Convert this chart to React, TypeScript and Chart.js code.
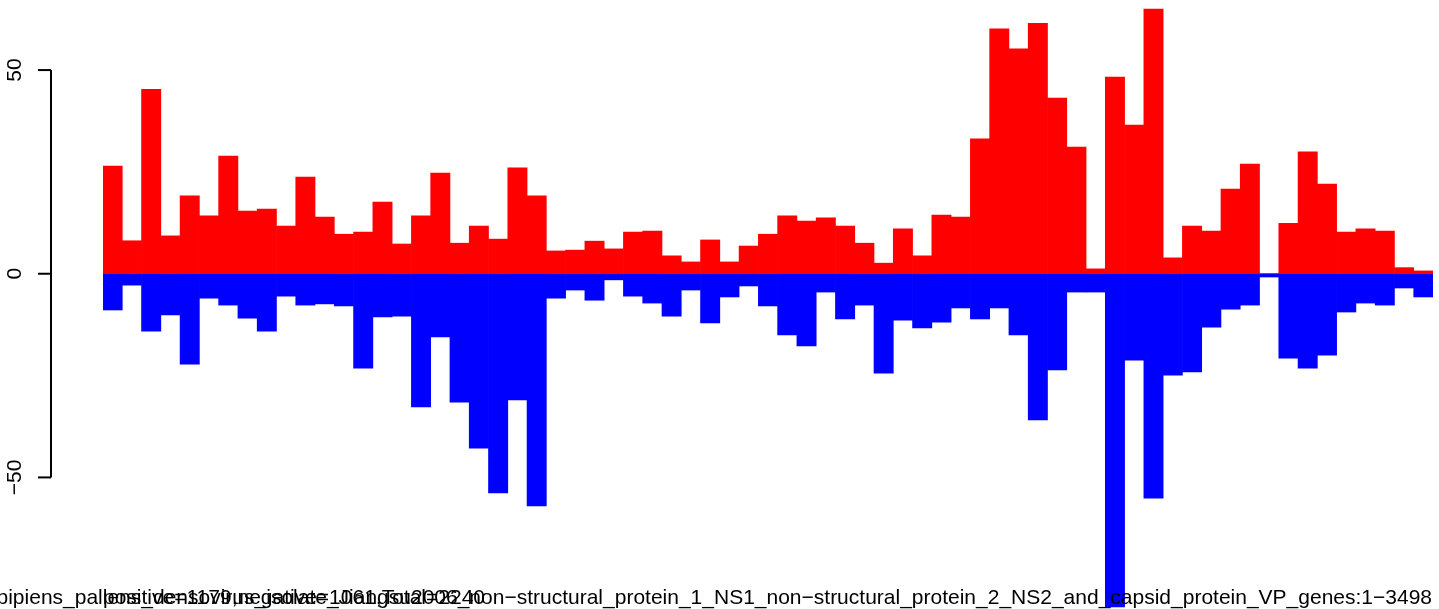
import React, { useEffect, useRef } from "react";
import { Chart, registerables } from "chart.js";

Chart.register(...registerables);

// Counts per bin along the genome (positive strand above, negative strand below)
const positive = [
  26.4, 8.1, 45.3, 9.3, 19.1, 14.2, 28.9, 15.4, 15.9, 11.7,
  23.7, 13.9, 9.7, 10.2, 17.6, 7.3, 14.2, 24.7, 7.5, 11.7,
  8.5, 26.0, 19.1, 5.6, 5.8, 8.0, 6.1, 10.2, 10.5, 4.4,
  2.9, 8.3, 2.9, 6.8, 9.7, 14.2, 12.9, 13.7, 11.7, 7.5,
  2.6, 11.0, 4.4, 14.4, 13.9, 33.1, 60.1, 55.2, 61.5, 43.1,
  31.1, 1.2, 48.3, 36.5, 65.0, 3.9, 11.7, 10.5, 20.8, 26.9,
  0, 12.4, 29.9, 22.0, 10.2, 11.0, 10.5, 1.5, 0.7,
];

const negative = [
  -8.9, -2.8, -14.1, -10.1, -22.2, -6.0, -7.7, -10.9, -14.1, -5.5,
  -7.7, -7.4, -7.9, -23.2, -10.6, -10.4, -32.7, -15.5, -31.5, -42.8,
  -53.8, -31.0, -57.0, -6.0, -4.0, -6.5, -1.5, -5.5, -7.2, -10.4,
  -4.0, -12.1, -5.7, -3.0, -7.9, -15.0, -17.7, -4.5, -11.1, -7.7,
  -24.4, -11.4, -13.3, -11.9, -8.4, -11.1, -8.4, -15.0, -35.9, -23.6,
  -4.5, -4.5, -81.8, -21.2, -55.1, -24.9, -24.1, -13.1, -8.7, -7.7,
  -0.8, -20.7, -23.2, -20.0, -9.4, -7.2, -7.7, -3.5, -5.7,
];

const bins = positive.map((_, i) => String(i + 1));

const yTicks = [-50, 0, 50];
const yTickLabels = ["\u221250", "0", "50"];

const titleText =
  "Culex_pipiens_pallens_densovirus_isolate_Jiangsu2006_non\u2212structural_protein_1_NS1_non\u2212structural_protein_2_NS2_and_capsid_protein_VP_genes:1\u22123498";
const countsText = "positive=1179,negative=1061,Total=2240";

const FONT = '21px "Liberation Sans", Arial, Helvetica, sans-serif';

const rAxisPlugin = {
  id: "rAxis",
  afterDraw(chart: any) {
    const ctx = chart.ctx as CanvasRenderingContext2D;
    const y = chart.scales.y;
    ctx.save();
    ctx.strokeStyle = "#000000";
    ctx.fillStyle = "#000000";
    ctx.lineWidth = 2;
    const axisX = 51;
    const yTop = y.getPixelForValue(Math.max(...yTicks));
    const yBot = y.getPixelForValue(Math.min(...yTicks));
    ctx.beginPath();
    ctx.moveTo(axisX, yTop);
    ctx.lineTo(axisX, yBot);
    ctx.stroke();
    ctx.font = FONT;
    ctx.textAlign = "center";
    ctx.textBaseline = "alphabetic";
    yTicks.forEach((t, i) => {
      const py = y.getPixelForValue(t);
      ctx.beginPath();
      ctx.moveTo(38, py);
      ctx.lineTo(axisX, py);
      ctx.stroke();
      ctx.save();
      ctx.translate(21, py);
      ctx.rotate(-Math.PI / 2);
      ctx.fillText(yTickLabels[i], 0, 0);
      ctx.restore();
    });
    // bottom texts
    ctx.textAlign = "right";
    ctx.fillText(titleText, 1432, 604);
    ctx.textAlign = "left";
    ctx.fillText(countsText, 103, 604);
    ctx.restore();
  },
};

export default function App() {
  const ref = useRef<HTMLCanvasElement | null>(null);
  useEffect(() => {
    if (!ref.current) return;
    const chart = new Chart(ref.current, {
      type: "bar",
      data: {
        labels: bins,
        datasets: [
          {
            data: positive,
            backgroundColor: "#ff0000",
            borderWidth: 0,
            grouped: false,
            barPercentage: 1,
            categoryPercentage: 1,
          } as any,
          {
            data: negative,
            backgroundColor: "#0000ff",
            borderWidth: 0,
            grouped: false,
            barPercentage: 1,
            categoryPercentage: 1,
          } as any,
        ],
      },
      options: {
        animation: false,
        responsive: false,
        events: [],
        layout: { padding: { left: 103, right: 6, top: 0, bottom: 0 } },
        plugins: {
          legend: { display: false },
          tooltip: { enabled: false },
          title: { display: false },
        },
        scales: {
          x: { display: false },
          y: { display: false, min: -82.3, max: 67.2 },
        },
      },
      plugins: [rAxisPlugin],
    });
    return () => chart.destroy();
  }, []);
  return (
    <div style={{ position: "fixed", left: 0, top: 0, width: 1439, height: 609, background: "#ffffff" }}>
      <canvas ref={ref} width={1439} height={609} style={{ display: "block" }} />
    </div>
  );
}
